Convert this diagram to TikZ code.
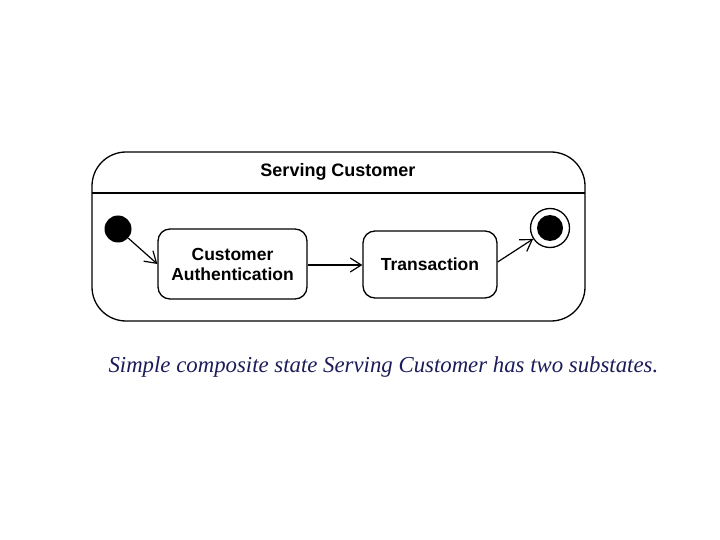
\documentclass[tikz,border=0pt]{standalone}
\usepackage{fontspec}
\setmainfont{Liberation Sans}
\newfontfamily\capfont{Liberation Serif}
\usetikzlibrary{arrows.meta}
\definecolor{capblue}{HTML}{1C1C5A}
\begin{document}
\begin{tikzpicture}[x=1pt,y=-1pt,
  state/.style={draw,line width=1.3pt,rounded corners=12pt,align=center,font=\fontsize{17.5}{20}\selectfont\bfseries,inner sep=0pt},
  trans/.style={line width=1.2pt,-{Straight Barb[length=11pt,width=14pt,line width=1.2pt]}}]
\useasboundingbox (0,0) rectangle (720,540);
\draw[line width=1.3pt,rounded corners=34pt] (92,152) rectangle (585,321);
\draw[line width=1.1pt] (92,193) -- (585,193);
\node[font=\fontsize{18}{20}\selectfont\bfseries] (title) at (338,172) {Serving Customer};
\node[circle,fill=black,minimum size=27pt,inner sep=0pt] (init) at (118,229) {};
\node[state,minimum width=149pt,minimum height=70pt] (auth) at (232.5,264) {Customer\\Authentication};
\node[state,minimum width=134pt,minimum height=67pt] (tr) at (430,264.5) {Transaction};
\node[circle,draw,line width=1.3pt,minimum size=39pt,inner sep=0pt] (fin) at (550,228) {};
\node[circle,fill=black,minimum size=26pt,inner sep=0pt] (finin) at (fin) {};
\draw[trans] (init) -- (auth.west|-0,264);
\draw[trans] (auth.east|-0,265) -- (tr.west|-0,265);
\draw[trans] (tr.east|-0,262) -- (fin);
\node[font=\capfont\itshape\fontsize{22.8}{26}\selectfont,text=capblue,anchor=west] (cap) at (105,367) {Simple composite state Serving Customer has two substates.};
\end{tikzpicture}
\end{document}
